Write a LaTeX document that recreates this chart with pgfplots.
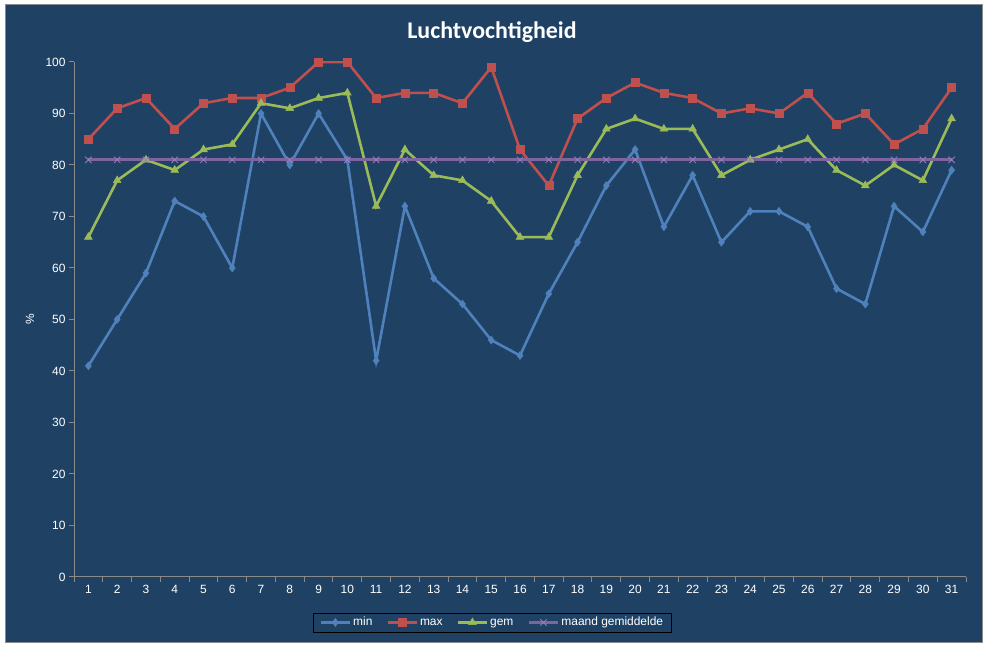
\documentclass[border=0pt]{standalone}
\usepackage{pgfplots}
\pgfplotsset{compat=1.18}
\usepackage{pgfplotstable}
\usepackage{fontspec}
\setmainfont{Liberation Sans}
\newfontfamily\titlefont{Carlito}
\definecolor{bg}{HTML}{1F4264}
\definecolor{axgrey}{HTML}{8A8A8A}
\definecolor{cmin}{HTML}{4F81BD}
\definecolor{cmax}{HTML}{C0504D}
\definecolor{cgem}{HTML}{9BBB59}
\definecolor{cmaand}{HTML}{8064A2}
\definecolor{cmaandmark}{HTML}{9A7DBE}

\pgfplotstableread{
day min max gem maand
1  41 85 66 81
2  50 91 77 81
3  59 93 81 81
4  73 87 79 81
5  70 92 83 81
6  60 93 84 81
7  90 93 92 81
8  80 95 91 81
9  90 100 93 81
10 81 100 94 81
11 42 93 72 81
12 72 94 83 81
13 58 94 78 81
14 53 92 77 81
15 46 99 73 81
16 43 83 66 81
17 55 76 66 81
18 65 89 78 81
19 76 93 87 81
20 83 96 89 81
21 68 94 87 81
22 78 93 87 81
23 65 90 78 81
24 71 91 81 81
25 71 90 83 81
26 68 94 85 81
27 56 88 79 81
28 53 90 76 81
29 72 84 80 81
30 67 87 77 81
31 79 95 89 81
}\datatable

\begin{document}
\begin{tikzpicture}[x=1bp,y=1bp]
\fill[white] (0,0) rectangle (987,648);
\fill[bg] (5,5) rectangle (982,643);
\draw[axgrey, line width=1bp] (5,5) rectangle (982,643);
\node[font=\titlefont\bfseries\fontsize{24}{28}\selectfont, text=white] at (492,616) {Luchtvochtigheid};
\begin{axis}[
  at={(74bp,71bp)}, anchor=south west,
  scale only axis, width=892bp, height=515bp,
  xmin=0.5, xmax=31.5, ymin=0, ymax=100,
  axis lines*=left,
  axis line style={axgrey, line width=1bp},
  tick style={axgrey, line width=1bp},
  tick align=outside,
  major tick length=5bp,
  xtick={0.5,1.5,...,31.5},
  x tick label as interval,
  xticklabels={1,2,3,4,5,6,7,8,9,10,11,12,13,14,15,16,17,18,19,20,21,22,23,24,25,26,27,28,29,30,31},
  ytick={0,10,...,100},
  ticklabel style={text=white, font=\fontsize{12}{14}\selectfont},
  /pgf/number format/assume math mode=true,
  ylabel={\%},
  ylabel style={text=white, font=\fontsize{12}{14}\selectfont, at={(axis description cs:-0.0493,0.5)}, anchor=center},
  legend columns=4,
  legend style={at={(axis description cs:0.469,-0.0883)}, anchor=center,
    fill=bg, draw=black, line width=0.8bp, text=white,
    font=\fontsize{12}{14}\selectfont, inner xsep=6bp, inner ysep=2bp,
    nodes={text height=8.5bp, text depth=2.5bp},
    /tikz/every even column/.append style={column sep=12bp}},
  legend image code/.code={\draw[mark repeat=2,mark phase=2,#1] plot coordinates {(0bp,0bp) (14.5bp,0bp) (29bp,0bp)};},
  every axis plot/.append style={line width=2.6bp},
]
\addplot[cmin, mark=diamond*, mark size=4bp, mark options={solid, fill=cmin, line width=0.5bp}] table[x=day, y=min] {\datatable};
\addlegendentry{min}
\addplot[cmax, mark=square*, mark size=4bp, mark options={solid, fill=cmax, line width=0.5bp}] table[x=day, y=max] {\datatable};
\addlegendentry{max}
\addplot[cgem, mark=triangle*, mark size=4.5bp, mark options={solid, fill=cgem, line width=0.5bp}] table[x=day, y=gem] {\datatable};
\addlegendentry{gem}
\addplot[cmaand, line width=3bp, mark=x, mark size=4.5bp, mark options={solid, draw=cmaandmark, line width=0.8bp}] table[x=day, y=maand] {\datatable};
\addlegendentry{maand gemiddelde}
\end{axis}
\end{tikzpicture}
\end{document}
